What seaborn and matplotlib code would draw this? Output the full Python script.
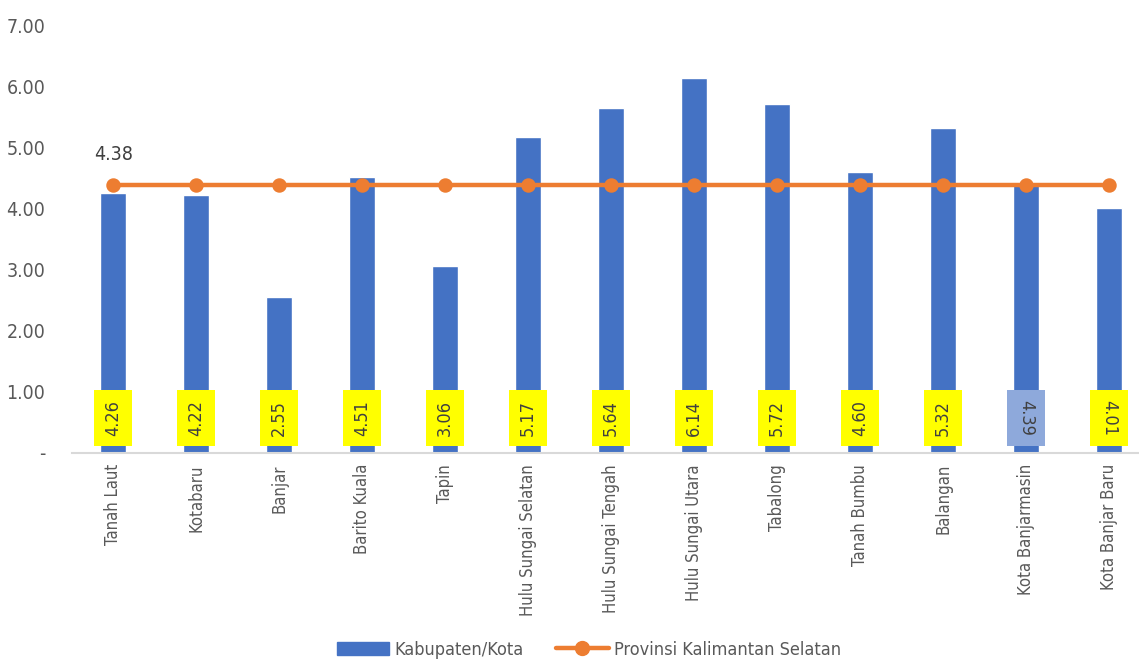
import numpy as np
import pandas as pd
import seaborn as sns
from matplotlib import pyplot as plt
from matplotlib.lines import Line2D
from matplotlib.patches import Patch

regions = ['Tanah Laut', 'Kotabaru', 'Banjar', 'Barito Kuala', 'Tapin', 'Hulu Sungai Selatan',
           'Hulu Sungai Tengah', 'Hulu Sungai Utara', 'Tabalong', 'Tanah Bumbu', 'Balangan',
           'Kota Banjarmasin', 'Kota Banjar Baru']
kab_values = [4.26, 4.22, 2.55, 4.51, 3.06, 5.17, 5.64, 6.14, 5.72, 4.60, 5.32, 4.39, 4.01]
prov_values = [4.38] * 13
y_ticks = [0, 1, 2, 3, 4, 5, 6, 7]
y_ticklabels = ['-', '1.00', '2.00', '3.00', '4.00', '5.00', '6.00', '7.00']

BLUE = '#4472C4'
ORANGE = '#ED7D31'
GREY = '#595959'

sns.set_style('white')
plt.rcParams['font.family'] = ['DejaVu Sans']
plt.rcParams['font.stretch'] = 'condensed'

df = pd.DataFrame({'region': regions, 'kab': kab_values, 'prov': prov_values})

fig = plt.figure(figsize=(11.39, 6.67), dpi=100)
ax = fig.add_axes([0.063, 0.321, 0.937, 0.641])

sns.barplot(data=df, x='region', y='kab', color=BLUE, width=0.31, saturation=1, ax=ax)
sns.pointplot(data=df, x='region', y='prov', color=ORANGE, markers='o', markersize=8,
              linewidth=3.2, ax=ax)

# value boxes at the bottom of each bar
for i, v in enumerate(kab_values):
    if i >= 11:
        box_color = '#8EA9DB' if i == 11 else 'yellow'
        rot = -90
    else:
        box_color = 'yellow'
        rot = 90
    ax.text(i, 0.57, f'{v:.2f}', rotation=rot, ha='center', va='center', fontsize=13,
            color='#404040',
            bbox=dict(boxstyle='square,pad=0.55', fc=box_color, ec='none'))

ax.text(0, 4.88, f'{prov_values[0]:.2f}', ha='center', va='center', fontsize=14, color='#404040')

ax.set_ylim(0, 7)
ax.set_xlim(-0.5, 12.36)
ax.set_yticks(y_ticks)
ax.set_yticklabels(y_ticklabels, fontsize=14, color=GREY)
ax.set_xticks(range(len(regions)))
ax.set_xticklabels(regions, rotation=90, fontsize=12, color=GREY)
ax.tick_params(axis='x', length=0, pad=8)
ax.tick_params(axis='y', length=0, pad=19)
ax.set_xlabel('')
ax.set_ylabel('')
for s in ['top', 'right', 'left']:
    ax.spines[s].set_visible(False)
ax.spines['bottom'].set_color('#D9D9D9')
ax.spines['bottom'].set_linewidth(1.5)

handles = [Patch(color=BLUE),
           Line2D([0], [0], color=ORANGE, lw=3.2, marker='o', markersize=10)]
fig.legend(handles, ['Kabupaten/Kota', 'Provinsi Kalimantan Selatan'], loc='lower center',
           bbox_to_anchor=(0.517, -0.012), ncol=2, frameon=False, fontsize=13,
           labelcolor=GREY, handlelength=2.9, columnspacing=1.8, handletextpad=0.3)

plt.savefig('out.png', dpi=100)
